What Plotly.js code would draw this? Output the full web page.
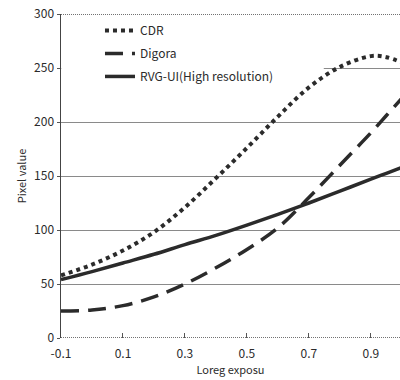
<!DOCTYPE html>
<html><head><meta charset="utf-8">
<script src="https://cdn.plot.ly/plotly-3.0.1.min.js"></script>
<style>html,body{margin:0;padding:0;background:#fff;}</style>
</head><body>
<div id="chart" style="width:400px;height:380px;"></div>
<script>
const exposure = [-0.1, 0.0, 0.1, 0.2, 0.3, 0.4, 0.5, 0.6, 0.7, 0.8, 0.9, 0.95, 1.0];
const cdr     = [58, 68, 81, 98, 121, 148, 176, 205, 232, 251, 261, 260, 255];
const digora  = [25, 26, 30, 38, 50, 65, 82, 102, 130, 160, 190, 206, 222];
const rvg     = [54, 61.5, 69.5, 77.5, 86.5, 95, 104.5, 114.5, 125, 136, 147, 152.5, 158];
const xTicks = [-0.1, 0.1, 0.3, 0.5, 0.7, 0.9];
const xTickText = ["-0.1", "0.1", "0.3", "0.5", "0.7", "0.9"];
const yTicks = [0, 50, 100, 150, 200, 250, 300];
const seriesNames = ["CDR", "Digora", "RVG-UI(High resolution)"];

const ink = '#2b2b2b';
const font = {family: '"Noto Sans CJK JP", "Liberation Sans", sans-serif', size: 12, color: ink};

const traces = [
  {x: exposure, y: cdr, name: seriesNames[0], legendgroup: 'a', mode: 'lines', line: {color: ink, width: 4, dash: '4px,4px', shape: 'spline', smoothing: 1}},
  {x: exposure, y: digora, name: seriesNames[1], legendgroup: 'b', mode: 'lines', line: {color: ink, width: 3.5, dash: '18px,9px', shape: 'spline', smoothing: 1}},
  {x: exposure, y: rvg, name: seriesNames[2], legendgroup: 'c', mode: 'lines', line: {color: ink, width: 3.5, shape: 'spline', smoothing: 1}}
];

const layout = {
  width: 400, height: 380,
  margin: {l: 61, r: 0, t: 14, b: 42},
  paper_bgcolor: '#fff', plot_bgcolor: '#fff',
  font: font,
  showlegend: true,
  legend: {x: 0.115, y: 0.994, xanchor: 'left', yanchor: 'top', bgcolor: '#fff', borderwidth: 0,
           tracegroupgap: 4,
           font: {family: font.family, size: 12, color: ink}, itemclick: false},
  xaxis: {range: [-0.1, 0.994], tickvals: xTicks, ticktext: xTickText, showgrid: false, zeroline: false,
          ticks: 'inside', ticklen: 5, tickcolor: '#555', tickfont: {size: 12, color: ink},
          ticklabelstandoff: 7,
          showline: false, fixedrange: true,
          title: {text: 'Loreg exposu', font: {size: 11, color: ink}, standoff: 4}},
  yaxis: {range: [0, 300], tickvals: yTicks, showgrid: true, gridcolor: '#8a8a8a', gridwidth: 1, zeroline: false,
          ticks: 'outside', ticklen: 3, tickcolor: '#555', tickfont: {size: 12, color: ink},
          showline: true, linecolor: '#444', linewidth: 1.5, fixedrange: true,
          title: {text: 'Pixel value', font: {size: 11, color: ink}, standoff: 5}},
  shapes: [
    {type: 'rect', layer: 'between', xref: 'x', yref: 'y', x0: -0.099, x1: 0.748, y0: 245, y1: 255, fillcolor: '#fff', line: {width: 0}},
    {type: 'line', xref: 'paper', yref: 'y', x0: 0, x1: 1, y0: 300, y1: 300, line: {color: '#444', width: 1.5, dash: '1px,1px'}},
    {type: 'line', xref: 'paper', yref: 'y', x0: 0, x1: 1, y0: 0, y1: 0, line: {color: '#444', width: 1.5, dash: '1px,1px'}}
  ]
};

Plotly.newPlot('chart', traces, layout, {displayModeBar: false, staticPlot: true});
</script>
</body></html>
